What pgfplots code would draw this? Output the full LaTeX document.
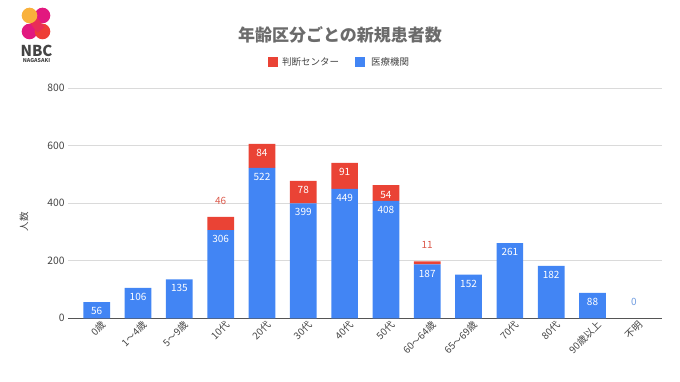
\documentclass[border=0pt]{standalone}
\usepackage{fontspec}
\setmainfont{Noto Sans CJK JP}
\usepackage{pgfplots}
\pgfplotsset{compat=1.18}
\usepackage{pgfplotstable}
\definecolor{gblue}{HTML}{4285F4}
\definecolor{gred}{HTML}{EA4335}
\definecolor{lblred}{HTML}{DB5A4C}
\definecolor{lblblue}{HTML}{6E9BE0}
\definecolor{gridgray}{HTML}{DADADA}
\definecolor{axisgray}{HTML}{555555}
\definecolor{txtgray}{HTML}{444444}
\definecolor{titlegray}{HTML}{6B6B6B}
\definecolor{logoY}{HTML}{F9B13C}
\definecolor{logoM}{HTML}{E2187F}
\definecolor{logoR}{HTML}{EE3E36}
\newcommand{\tl}{〜}
\tikzset{vl/.style={font=\fontsize{10}{12}\selectfont, text=white}}
\pgfplotstableread{
x med cen
0 56 0
1 106 0
2 135 0
3 306 46
4 522 84
5 399 78
6 449 91
7 408 54
8 187 11
9 152 0
10 261 0
11 182 0
12 88 0
13 0 0
}\data
\begin{document}
\begin{tikzpicture}
\useasboundingbox (0pt,0pt) rectangle (680pt,382pt);
% logo
\fill[logoM] (29.5pt,350.5pt) circle (7.8pt);
\fill[logoM] (42.5pt,366.5pt) circle (7.8pt);
\fill[logoR] (42.5pt,350.5pt) circle (7.8pt);
\draw[line width=9pt, logoR!55!logoM] (31pt,365pt) -- (41pt,352pt);
\fill[logoY] (29.5pt,366.5pt) circle (7.8pt);
\node[font=\fontsize{15}{16}\selectfont\bfseries, text=txtgray] at (36.5pt,331.5pt) {NBC};
\node[font=\fontsize{5.3}{6}\selectfont\bfseries, text=txtgray] at (36.5pt,321.5pt) {NAGASAKI};
% title
\node[font=\fontsize{17}{20}\selectfont\bfseries, text=titlegray] at (340pt,347pt) {年齢区分ごとの新規患者数};
% legend
\fill[gred] (268pt,315pt) rectangle (277.5pt,324.5pt);
\node[anchor=west, font=\fontsize{9.5}{11}\selectfont, text=txtgray, inner sep=0pt] at (282pt,319.7pt) {判断センター};
\fill[gblue] (355pt,315pt) rectangle (364.5pt,324.5pt);
\node[anchor=west, font=\fontsize{9.5}{11}\selectfont, text=txtgray, inner sep=0pt] at (371pt,319.7pt) {医療機関};
% y label
\node[rotate=90, font=\fontsize{9.5}{11}\selectfont, text=txtgray] at (24pt,160pt) {人数};
\begin{axis}[
  at={(68pt,63.7pt)}, anchor=south west,
  scale only axis, width=593.7pt, height=230.4pt,
  xmin=-0.695, xmax=13.675, ymin=0, ymax=800,
  ybar stacked, bar width=26.7pt,
  axis line style={draw=none}, major tick length=0pt,
  ytick={0,200,400,600,800},
  ymajorgrids, grid style={color=gridgray, line width=0.6pt},
  extra y ticks={0}, extra y tick labels={},
  extra y tick style={grid style={color=axisgray, line width=0.9pt}},
  xtick={0,...,13},
  xticklabels={0歳,1\tl 4歳,5\tl 9歳,10代,20代,30代,40代,50代,60\tl 64歳,65\tl 69歳,70代,80代,90歳以上,不明},
  xticklabel style={rotate=45, anchor=east, xshift=5pt, yshift=-8pt, font=\fontsize{9.8}{11}\selectfont, text=txtgray},
  yticklabel style={font=\fontsize{10.3}{12}\selectfont, text=txtgray},
  /pgf/number format/assume math mode=true,
  clip=false,
]
\addplot[fill=gblue, draw=none] table[x=x, y=med] {\data};
\addplot[fill=gred, draw=none] table[x=x, y=cen] {\data};
\coordinate (b0) at (axis cs:0,56);
\coordinate (b1) at (axis cs:1,106);
\coordinate (b2) at (axis cs:2,135);
\coordinate (b3) at (axis cs:3,306);
\coordinate (b4) at (axis cs:4,522);
\coordinate (b5) at (axis cs:5,399);
\coordinate (b6) at (axis cs:6,449);
\coordinate (b7) at (axis cs:7,408);
\coordinate (b8) at (axis cs:8,187);
\coordinate (b9) at (axis cs:9,152);
\coordinate (b10) at (axis cs:10,261);
\coordinate (b11) at (axis cs:11,182);
\coordinate (b12) at (axis cs:12,88);
\coordinate (b13) at (axis cs:13,0);
\coordinate (r3) at (axis cs:3,352);
\coordinate (r4) at (axis cs:4,606);
\coordinate (r5) at (axis cs:5,477);
\coordinate (r6) at (axis cs:6,540);
\coordinate (r7) at (axis cs:7,462);
\coordinate (r8) at (axis cs:8,198);
\end{axis}
% value labels
\node[vl, yshift=-9pt] at (b0) {56};
\node[vl, yshift=-9pt] at (b1) {106};
\node[vl, yshift=-9pt] at (b2) {135};
\node[vl, yshift=-9pt] at (b3) {306};
\node[vl, yshift=-9pt] at (b4) {522};
\node[vl, yshift=-9pt] at (b5) {399};
\node[vl, yshift=-9pt] at (b6) {449};
\node[vl, yshift=-9pt] at (b7) {408};
\node[vl, yshift=-9pt] at (b8) {187};
\node[vl, yshift=-9pt] at (b9) {152};
\node[vl, yshift=-9pt] at (b10) {261};
\node[vl, yshift=-9pt] at (b11) {182};
\node[vl, yshift=-9pt] at (b12) {88};
\node[vl, yshift=-9.5pt] at (r4) {84};
\node[vl, yshift=-9.5pt] at (r5) {78};
\node[vl, yshift=-9.5pt] at (r6) {91};
\node[vl, yshift=-9.5pt] at (r7) {54};
\node[vl, yshift=16pt, text=lblred] at (r3) {46};
\node[vl, yshift=16pt, text=lblred] at (r8) {11};
\node[vl, yshift=16pt, text=lblblue] at (b13) {0};
\end{tikzpicture}
\end{document}
